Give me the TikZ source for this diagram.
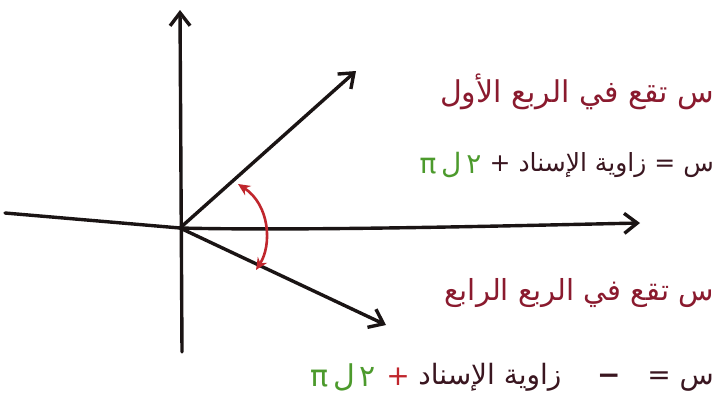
\documentclass[tikz,border=0pt]{standalone}
\usepackage{fontspec}
\usetikzlibrary{arrows.meta}
\newfontfamily\arabicfont[Script=Arabic]{DejaVu Sans}
\TeXXeTstate=1
\definecolor{inkblack}{HTML}{1A1414}
\definecolor{inkdark}{HTML}{3A1620}
\definecolor{inkmaroon}{HTML}{8A1A2E}
\definecolor{inkgreen}{HTML}{4C9A2C}
\definecolor{inkred}{HTML}{C0262D}
\tikzset{
  axis/.style={line width=3.4pt, draw=inkblack, line cap=round, -{Straight Barb[length=13pt,width=20pt,line width=3.4pt]}},
  plainline/.style={line width=3.4pt, draw=inkblack, line cap=round},
  anglearrow/.style={line width=2.6pt, draw=inkred, {Stealth[length=12pt,width=11pt]}-{Stealth[length=12pt,width=11pt]}},
  arlabel/.style={inner sep=0pt},
}
\begin{document}
\begin{tikzpicture}[x=1pt,y=-1pt]
\useasboundingbox (0,0) rectangle (722,407);
\fill[white] (0,0) rectangle (722,407);
% coordinates
\coordinate (O) at (180,228);
\coordinate (xL) at (5,213);
\coordinate (xR) at (640,223);
\coordinate (yT) at (180,10);
\coordinate (yB) at (182,352);
\coordinate (r1) at (356,71);
\coordinate (r2) at (386,325);
\coordinate (a1) at (238,184);
\coordinate (a2) at (256,270);
% axes
\draw[plainline] (xL) -- (O);
\draw[axis] (O) .. controls (300,231) and (500,226) .. (xR);
\draw[axis] (yB) -- (yT);
% rays
\draw[axis] (O) -- (r1);
\draw[axis] (O) -- (r2);
% angle arrow
\draw[anglearrow] (a1) .. controls (270,205) and (272,245) .. (a2);
% texts
\node[arlabel, text=inkmaroon, anchor=east, font=\arabicfont\fontsize{30}{33}\selectfont] (t1) at (714,92) {\beginR س تقع في الربع الأول\endR};
\node[arlabel, text=inkdark, anchor=east, font=\arabicfont\fontsize{25}{28}\selectfont] (t2) at (714,165) {\beginR س = زاوية الإسناد +\endR};
\node[arlabel, text=inkgreen, anchor=east, font=\arabicfont\fontsize{28}{30}\selectfont] (t2g) at ([xshift=-8pt]t2.west) {\beginR ٢\,ل\,π\endR};
\node[arlabel, text=inkmaroon, anchor=east, font=\arabicfont\fontsize{29}{32}\selectfont] (t3) at (714,293) {\beginR س تقع في الربع الرابع\endR};
\node[arlabel, text=inkdark, anchor=east, font=\arabicfont\fontsize{28}{31}\selectfont] (t4) at (714,377) {\beginR س =\ \ \ {\bfseries −}\ \ \ \ زاوية الإسناد\endR};
\node[arlabel, text=inkred, anchor=east, font=\arabicfont\fontsize{28}{31}\selectfont] (t4p) at ([xshift=-8pt]t4.west) {+};
\node[arlabel, text=inkgreen, anchor=east, font=\arabicfont\fontsize{30}{31}\selectfont] (t4g) at ([xshift=-10pt]t4p.west) {\beginR ٢\,ل\,π\endR};
\end{tikzpicture}
\end{document}
